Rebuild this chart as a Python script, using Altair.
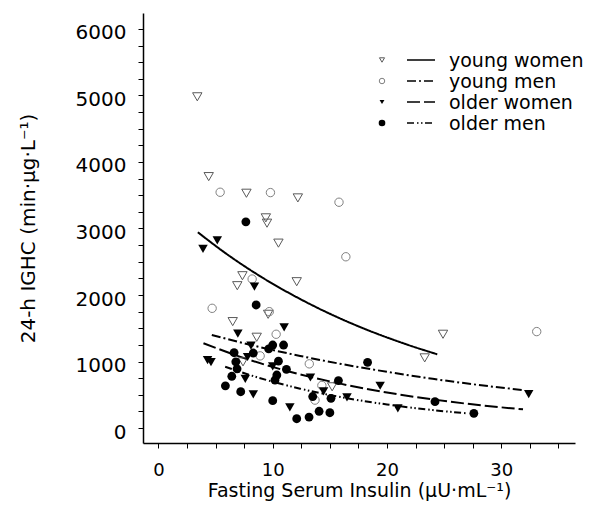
import altair as alt
import pandas as pd

# ---- data ----
groups = ["young women", "young men", "older women", "older men"]

yw_x = [3.4, 4.4, 7.7, 12.2, 9.4, 9.5, 10.5, 7.35, 6.9, 12.1, 9.6, 6.5, 8.6, 7.4, 15.2, 23.3, 24.9]
yw_y = [4980, 3780, 3530, 3460, 3160, 3080, 2780, 2290, 2140, 2200, 1710, 1600, 1365, 995, 620, 1055, 1410]

ym_x = [5.4, 9.8, 15.8, 16.4, 8.2, 4.7, 9.7, 10.3, 8.9, 13.2, 14.3, 13.7, 33.1]
ym_y = [3545, 3540, 3395, 2575, 2240, 1800, 1750, 1410, 1085, 965, 640, 420, 1450]

ow_x = [5.15, 3.9, 8.4, 6.95, 11.0, 8.1, 7.8, 4.3, 4.6, 10.0, 7.6, 8.3, 11.5, 13.3, 14.45, 16.5, 19.4, 20.95, 32.4]
ow_y = [2820, 2695, 2125, 1420, 1515, 1240, 1068, 1020, 990, 927, 740, 505, 312, 760, 550, 461, 636, 296, 511]

om_x = [7.65, 8.55, 10.95, 10.0, 9.65, 6.62, 8.3, 6.77, 6.88, 10.5, 11.2, 10.36, 10.2, 6.42, 15.75, 5.86,
        7.2, 10.0, 13.5, 15.1, 12.1, 13.18, 14.06, 15.0, 18.3, 24.2, 27.6]
om_y = [3100, 1850, 1248, 1248, 1190, 1132, 1128, 995, 890, 1005, 882, 797, 722, 778, 714, 634,
        546, 411, 474, 447, 140, 165, 252, 230, 988, 396, 221]

# fitted curves
yw_fit_x = [3.45, 6, 9, 12.4, 15, 18, 21.1, 24.4]
yw_fit_y = [2943, 2613, 2272, 1940, 1718, 1494, 1294, 1108]
ym_fit_x = [4.67, 8, 12.4, 16, 20, 24, 28, 31.9]
ym_fit_y = [1398, 1253, 1084, 963, 845, 740, 648, 571]
ow_fit_x = [3.94, 8, 12.4, 16, 20, 24, 28, 31.9]
ow_fit_y = [1274, 1023, 806, 664, 534, 430, 346, 281]
om_fit_x = [5.84, 8, 12.4, 16, 20, 24, 27.0]
om_fit_y = [922, 797, 592, 464, 354, 270, 221]

x_ticks = [i * 2.5 for i in range(15)]
y_ticks = [i * 250 for i in range(25)]

FONT = "DejaVu Sans"

# ---- styles ----
styles = {
    "young women": dict(shape="triangle-down", filled=False, color="#5a5a5a", size=88, lsize=26),
    "young men": dict(shape="circle", filled=False, color="#808080", size=70, lsize=30),
    "older women": dict(shape="triangle-down", filled=True, color="black", size=90, lsize=24),
    "older men": dict(shape="circle", filled=True, color="black", size=78, lsize=44),
}
dashes = [[1, 0], [9, 3, 2, 3], [13, 4], [7, 3, 1.5, 2.5, 1.5, 2.5]]

xs = alt.Scale(domain=[-1.35, 36.45], nice=False, zero=False)
ys = alt.Scale(domain=[-225, 6240], nice=False, zero=False)

x_enc = alt.X(
    "x:Q", scale=xs,
    axis=alt.Axis(
        title="Fasting Serum Insulin (μU·mL⁻¹)", values=x_ticks,
        labelExpr="datum.value % 10 === 0 ? format(datum.value, 'd') : ''",
        tickSize=5, labelPadding=13, labelFontSize=18, titlePadding=2, titleFontSize=19,
        labelFlush=False,
    ),
)
y_enc = alt.Y(
    "y:Q", scale=ys,
    axis=alt.Axis(
        title="24-h IGHC (min·μg·L⁻¹)", values=y_ticks,
        labelExpr="datum.value % 1000 === 0 ? format(datum.value, 'd') : ''",
        tickSize=5, labelPadding=12, titlePadding=37, labelOffset=4, labelFlush=False,
    ),
)

pts_data = {
    "young women": (yw_x, yw_y),
    "young men": (ym_x, ym_y),
    "older women": (ow_x, ow_y),
    "older men": (om_x, om_y),
}
fit_data = {
    "young women": (yw_fit_x, yw_fit_y),
    "young men": (ym_fit_x, ym_fit_y),
    "older women": (ow_fit_x, ow_fit_y),
    "older men": (om_fit_x, om_fit_y),
}

fit_rows = []
for g in groups:
    fx, fy = fit_data[g]
    for a, b in zip(fx, fy):
        fit_rows.append({"x": a, "y": b, "group": g})
fit_df = pd.DataFrame(fit_rows)

lines = alt.Chart(fit_df).mark_line(color="black", strokeWidth=2, interpolate="monotone").encode(
    x=x_enc, y=y_enc,
    detail="group:N",
    strokeDash=alt.StrokeDash("group:N", scale=alt.Scale(domain=groups, range=dashes), legend=None),
)

layers = []
for g in groups:
    px, py = pts_data[g]
    st = styles[g]
    df = pd.DataFrame({"x": px, "y": py})
    if st["filled"]:
        mk = alt.Chart(df).mark_point(shape=st["shape"], filled=True, fill=st["color"],
                                      strokeWidth=0, size=st["size"], opacity=1)
    else:
        mk = alt.Chart(df).mark_point(shape=st["shape"], filled=False, stroke=st["color"],
                                      strokeWidth=1, size=st["size"], opacity=1)
    layers.append(mk.encode(x=x_enc, y=y_enc))

# ---- manual legend (pixel positions inside plot area) ----
leg_y0, leg_dy = 47, 21
leg_mx, leg_l1, leg_l2, leg_tx = 239, 264, 292, 306
one = pd.DataFrame({"a": [0]})
legend_layers = []
for i, g in enumerate(groups):
    st = styles[g]
    yy = leg_y0 + i * leg_dy
    if st["filled"]:
        m = alt.Chart(one).mark_point(shape=st["shape"], filled=True, fill=st["color"],
                                      strokeWidth=0, size=st["lsize"], opacity=1)
    else:
        m = alt.Chart(one).mark_point(shape=st["shape"], filled=False, stroke=st["color"],
                                      strokeWidth=1, size=st["lsize"], opacity=1)
    legend_layers.append(m.encode(x=alt.value(leg_mx), y=alt.value(yy)))
    legend_layers.append(
        alt.Chart(one).mark_rule(color="black", strokeWidth=1.5, strokeDash=dashes[i]).encode(
            x=alt.value(leg_l1), x2=alt.value(leg_l2), y=alt.value(yy)
        )
    )
    legend_layers.append(
        alt.Chart(one).mark_text(text=g, align="left", baseline="middle", font=FONT,
                                 fontSize=19, color="black").encode(
            x=alt.value(leg_tx), y=alt.value(yy + 1)
        )
    )

chart = alt.layer(lines, *layers, *legend_layers).properties(
    width=432, height=430,
    autosize=alt.AutoSizeParams(type="none"),
    padding={"left": 135, "top": 5, "right": 20, "bottom": 60},
).configure_view(stroke=None).configure_axis(
    grid=False, domainColor="black", domainWidth=1.5, tickColor="black", tickWidth=1,
    labelFont=FONT, labelFontSize=20, labelColor="black",
    titleFont=FONT, titleFontSize=20, titleFontWeight="normal", titleColor="black",
)

chart.save("out.html", embed_options={"renderer": "svg", "actions": False})
